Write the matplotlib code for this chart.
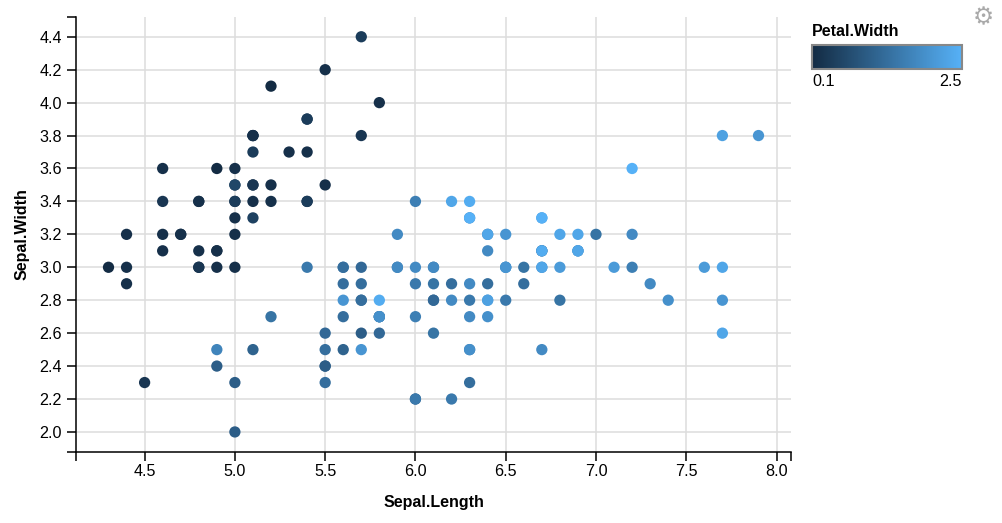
import matplotlib
matplotlib.use("Agg")
import matplotlib.pyplot as plt
from matplotlib.colors import LinearSegmentedColormap

plt.rcParams['font.family'] = ['Liberation Sans', 'DejaVu Sans']

# Iris data
sepal_length = [5.1, 4.9, 4.7, 4.6, 5.0, 5.4, 4.6, 5.0, 4.4, 4.9, 5.4, 4.8, 4.8, 4.3, 5.8, 5.7, 5.4, 5.1, 5.7, 5.1,
                5.4, 5.1, 4.6, 5.1, 4.8, 5.0, 5.0, 5.2, 5.2, 4.7, 4.8, 5.4, 5.2, 5.5, 4.9, 5.0, 5.5, 4.9, 4.4, 5.1,
                5.0, 4.5, 4.4, 5.0, 5.1, 4.8, 5.1, 4.6, 5.3, 5.0,
                7.0, 6.4, 6.9, 5.5, 6.5, 5.7, 6.3, 4.9, 6.6, 5.2, 5.0, 5.9, 6.0, 6.1, 5.6, 6.7, 5.6, 5.8, 6.2, 5.6,
                5.9, 6.1, 6.3, 6.1, 6.4, 6.6, 6.8, 6.7, 6.0, 5.7, 5.5, 5.5, 5.8, 6.0, 5.4, 6.0, 6.7, 6.3, 5.6, 5.5,
                5.5, 6.1, 5.8, 5.0, 5.6, 5.7, 5.7, 6.2, 5.1, 5.7,
                6.3, 5.8, 7.1, 6.3, 6.5, 7.6, 4.9, 7.3, 6.7, 7.2, 6.5, 6.4, 6.8, 5.7, 5.8, 6.4, 6.5, 7.7, 7.7, 6.0,
                6.9, 5.6, 7.7, 6.3, 6.7, 7.2, 6.2, 6.1, 6.4, 7.2, 7.4, 7.9, 6.4, 6.3, 6.1, 7.7, 6.3, 6.4, 6.0, 6.9,
                6.7, 6.9, 5.8, 6.8, 6.7, 6.7, 6.3, 6.5, 6.2, 5.9]
sepal_width = [3.5, 3.0, 3.2, 3.1, 3.6, 3.9, 3.4, 3.4, 2.9, 3.1, 3.7, 3.4, 3.0, 3.0, 4.0, 4.4, 3.9, 3.5, 3.8, 3.8,
               3.4, 3.7, 3.6, 3.3, 3.4, 3.0, 3.4, 3.5, 3.4, 3.2, 3.1, 3.4, 4.1, 4.2, 3.1, 3.2, 3.5, 3.6, 3.0, 3.4,
               3.5, 2.3, 3.2, 3.5, 3.8, 3.0, 3.8, 3.2, 3.7, 3.3,
               3.2, 3.2, 3.1, 2.3, 2.8, 2.8, 3.3, 2.4, 2.9, 2.7, 2.0, 3.0, 2.2, 2.9, 2.9, 3.1, 3.0, 2.7, 2.2, 2.5,
               3.2, 2.8, 2.5, 2.8, 2.9, 3.0, 2.8, 3.0, 2.9, 2.6, 2.4, 2.4, 2.7, 2.7, 3.0, 3.4, 3.1, 2.3, 3.0, 2.5,
               2.6, 3.0, 2.6, 2.3, 2.7, 3.0, 2.9, 2.9, 2.5, 2.8,
               3.3, 2.7, 3.0, 2.9, 3.0, 3.0, 2.5, 2.9, 2.5, 3.6, 3.2, 2.7, 3.0, 2.5, 2.8, 3.2, 3.0, 3.8, 2.6, 2.2,
               3.2, 2.8, 2.8, 2.7, 3.3, 3.2, 2.8, 3.0, 2.8, 3.0, 2.8, 3.8, 2.8, 2.8, 2.6, 3.0, 3.4, 3.1, 3.0, 3.1,
               3.1, 3.1, 2.7, 3.2, 3.3, 3.0, 2.5, 3.0, 3.4, 3.0]
petal_width = [0.2, 0.2, 0.2, 0.2, 0.2, 0.4, 0.3, 0.2, 0.2, 0.1, 0.2, 0.2, 0.1, 0.1, 0.2, 0.4, 0.4, 0.3, 0.3, 0.3,
               0.2, 0.4, 0.2, 0.5, 0.2, 0.2, 0.4, 0.2, 0.2, 0.2, 0.2, 0.4, 0.1, 0.2, 0.2, 0.2, 0.2, 0.1, 0.2, 0.2,
               0.3, 0.3, 0.2, 0.6, 0.4, 0.3, 0.2, 0.2, 0.2, 0.2,
               1.4, 1.5, 1.5, 1.3, 1.5, 1.3, 1.6, 1.0, 1.3, 1.4, 1.0, 1.5, 1.0, 1.4, 1.3, 1.4, 1.5, 1.0, 1.5, 1.1,
               1.8, 1.3, 1.5, 1.2, 1.3, 1.4, 1.4, 1.7, 1.5, 1.0, 1.1, 1.0, 1.2, 1.6, 1.5, 1.6, 1.5, 1.3, 1.3, 1.3,
               1.2, 1.4, 1.2, 1.0, 1.3, 1.2, 1.3, 1.3, 1.1, 1.3,
               2.5, 1.9, 2.1, 1.8, 2.2, 2.1, 1.7, 1.8, 1.8, 2.5, 2.0, 1.9, 2.1, 2.0, 2.4, 2.3, 1.8, 2.2, 2.3, 1.5,
               2.3, 2.0, 2.0, 1.8, 2.1, 1.8, 1.8, 1.8, 2.1, 1.6, 1.9, 2.0, 2.2, 1.5, 1.4, 2.3, 2.4, 1.8, 1.8, 2.1,
               2.4, 2.3, 1.9, 2.3, 2.5, 2.3, 1.9, 2.0, 2.3, 1.8]

x_ticks = [4.5, 5.0, 5.5, 6.0, 6.5, 7.0, 7.5, 8.0]
y_ticks = [2.0, 2.2, 2.4, 2.6, 2.8, 3.0, 3.2, 3.4, 3.6, 3.8, 4.0, 4.2, 4.4]
x_label = "Sepal.Length"
y_label = "Sepal.Width"
legend_title = "Petal.Width"

W, H = 1003, 523
fig = plt.figure(figsize=(W / 100, H / 100), dpi=100)
L, R, T, B = 76, 791, 17, 451.7
ax = fig.add_axes([L / W, 1 - B / H, (R - L) / W, (B - T) / H])

cmap = LinearSegmentedColormap.from_list('gg', ['#132B43', '#56B1F7'])
vmin, vmax = min(petal_width), max(petal_width)
sc = ax.scatter(sepal_length, sepal_width, c=petal_width, cmap=cmap, vmin=vmin, vmax=vmax,
                s=66, linewidths=0, zorder=3, clip_on=False)

xr = max(sepal_length) - min(sepal_length)
yr = max(sepal_width) - min(sepal_width)
xlim = (min(sepal_length) - 0.05 * xr, max(sepal_length) + 0.05 * xr)
ylim = (min(sepal_width) - 0.05 * yr, max(sepal_width) + 0.05 * yr)
ax.set_xlim(*xlim)
ax.set_ylim(*ylim)
ax.set_xticks(x_ticks)
ax.set_yticks(y_ticks)
ax.set_xticklabels([f"{v:.1f}" for v in x_ticks])
ax.set_yticklabels([f"{v:.1f}" for v in y_ticks])
ax.set_xticks(list(xlim), minor=True)
ax.set_yticks(list(ylim), minor=True)
ax.grid(True, which='major', color='#dddddd', linewidth=1.1)
ax.set_axisbelow(True)
for s in ['top', 'right']:
    ax.spines[s].set_visible(False)
for s in ['left', 'bottom']:
    ax.spines[s].set_color('black')
    ax.spines[s].set_linewidth(1.1)
ax.tick_params(which='both', length=6.3, width=1.1, color='black')
ax.tick_params(axis='x', which='major', labelsize=11.6, pad=2.6, labelcolor='black')
ax.tick_params(axis='y', which='major', labelsize=11.6, pad=4.0, labelcolor='black')

fig.text(433.5 / W, 1 - 503 / H, x_label, fontsize=11.5, fontweight='bold', ha='center', va='center')
fig.text(22 / W, 1 - 234 / H, y_label, fontsize=11.5, fontweight='bold', ha='center', va='center',
         rotation=90)

# legend
fig.text(812 / W, 1 - 31.5 / H, legend_title, fontsize=11.5, fontweight='bold', ha='left', va='center')
cax = fig.add_axes([812 / W, 1 - 68.7 / H, 150 / W, 23.7 / H])
cb = fig.colorbar(sc, cax=cax, orientation='horizontal')
cb.outline.set_edgecolor('#888888')
cb.outline.set_linewidth(1.5)
cb.set_ticks([vmin, vmax])
cb.set_ticklabels([f"{vmin:.1f}", f"{vmax:.1f}"])
cax.tick_params(length=0, pad=3.5, labelsize=11.6)
lbls = cax.get_xticklabels()
lbls[0].set_ha('left')
lbls[1].set_ha('right')

fig.text(983 / W, 1 - 17 / H, '\u2699', fontsize=17, color='#aaaaaa', family='DejaVu Sans',
         ha='center', va='center')

fig.savefig('out.png', dpi=100)
